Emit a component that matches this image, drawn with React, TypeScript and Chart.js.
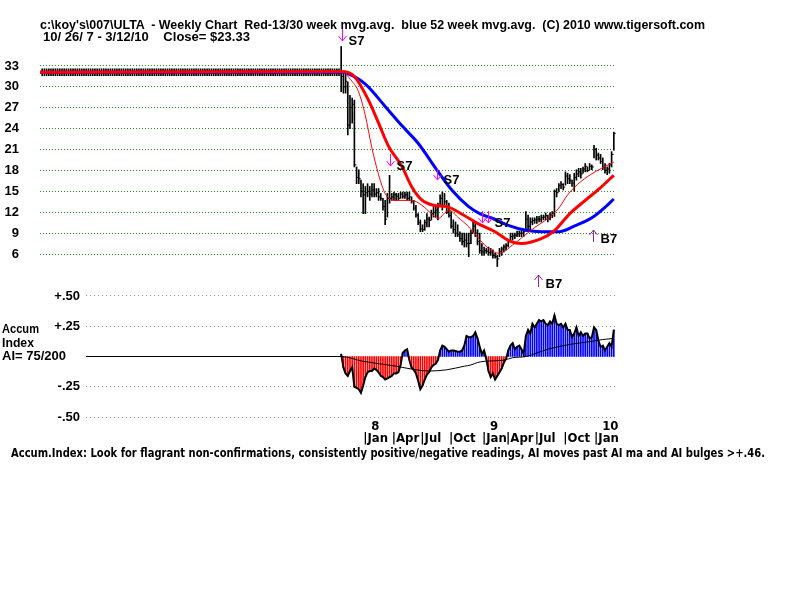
import React, { useEffect, useLayoutEffect, useRef } from 'react';
import { Chart, registerables } from 'chart.js';

Chart.register(...registerables);

// ---------------- data ----------------
// flat pre-history padding drawn by the original program before the first week
const padWeeks = 136;
const padHigh = 32.6;
const padLow = 31.6;
const padLevel = 32.1;

// weekly bars, week 0 = 10/26/07 ... week 124 = 3/12/10
const weekHigh = [
  35.8, 31.9, 32.0, 30.7, 28.8, 28.4, 28.1, 18.5, 18.1, 16.6,
  16.1, 15.7, 16.1, 15.7, 16.1, 16.1, 15.4, 15.4, 14.7, 14.0,
  13.7, 14.7, 17.3, 14.7, 14.9, 14.7, 14.7, 14.9, 14.9, 14.9,
  14.9, 14.9, 14.2, 13.7, 13.0, 11.8, 10.9, 10.2, 10.9, 11.8,
  11.3, 12.3, 12.8, 12.8, 13.3, 14.5, 14.9, 14.7, 13.7, 13.3,
  12.1, 10.9, 10.6, 10.2, 9.2, 9.0, 9.0, 9.0, 9.0, 9.4,
  10.6, 10.6, 9.5, 9.0, 7.5, 7.0, 6.8, 7.0, 6.8, 6.6,
  6.1, 5.8, 6.8, 7.0, 7.3, 7.5, 8.0, 9.0, 9.0, 9.0,
  9.3, 9.3, 9.5, 9.5, 12.1, 11.6, 11.2, 11.2, 11.2, 11.4,
  11.4, 11.6, 11.6, 11.9, 11.6, 11.9, 12.1, 15.2, 15.4, 16.1,
  16.4, 16.1, 17.8, 17.6, 17.4, 16.6, 17.6, 18.1, 18.3, 18.3,
  18.5, 19.0, 18.5, 19.0, 18.8, 21.6, 21.2, 20.5, 20.3, 19.8,
  19.0, 18.5, 19.0, 20.7, 23.5,
];
const weekLow = [
  29.3, 29.1, 29.1, 23.1, 24.0, 24.8, 18.5, 16.1, 16.1, 14.2,
  11.8, 11.8, 14.2, 13.7, 14.2, 14.2, 14.2, 13.7, 13.7, 12.3,
  10.2, 11.3, 13.3, 13.7, 13.7, 13.7, 13.7, 14.0, 14.0, 14.0,
  13.7, 13.7, 13.3, 12.3, 11.3, 10.2, 9.2, 9.2, 9.4, 9.9,
  9.9, 10.9, 11.3, 11.3, 10.9, 12.8, 12.3, 12.8, 11.8, 11.3,
  9.7, 9.0, 8.5, 8.5, 7.8, 7.3, 7.0, 7.0, 5.6, 7.5,
  9.0, 8.5, 7.3, 6.1, 5.8, 5.8, 6.1, 5.8, 5.8, 5.4,
  5.4, 4.2, 5.6, 5.8, 6.3, 6.6, 7.0, 7.8, 8.0, 8.2,
  8.5, 8.5, 8.5, 8.5, 9.5, 9.3, 9.5, 10.2, 10.4, 10.4,
  10.6, 10.6, 10.9, 10.9, 10.6, 10.9, 11.2, 11.4, 14.2, 15.0,
  15.4, 15.2, 15.9, 16.1, 16.1, 15.7, 15.0, 16.6, 17.1, 16.9,
  17.6, 17.8, 17.8, 18.1, 18.1, 19.8, 19.5, 19.5, 19.0, 18.1,
  17.6, 17.4, 17.6, 18.5, 20.9,
];
const weekClose = [
  31.5, 30.0, 30.8, 24.5, 27.0, 27.5, 18.8, 17.0, 16.8, 15.0,
  14.5, 14.8, 15.0, 14.6, 15.2, 14.6, 14.8, 14.2, 14.0, 12.8,
  11.0, 14.0, 14.0, 14.2, 14.5, 14.3, 14.0, 14.6, 14.3, 14.5,
  14.0, 14.2, 13.6, 12.6, 11.6, 10.5, 9.6, 9.5, 10.5, 11.0,
  10.8, 11.8, 12.0, 12.3, 12.8, 14.0, 13.0, 13.5, 12.0, 11.5,
  10.0, 9.5, 9.0, 8.8, 8.2, 7.8, 8.0, 7.5, 7.5, 9.0,
  10.0, 9.0, 7.8, 6.5, 6.3, 6.5, 6.4, 6.2, 6.3, 5.8,
  5.6, 5.3, 6.4, 6.7, 7.0, 7.2, 7.8, 8.5, 8.6, 8.7,
  8.9, 9.0, 9.0, 9.2, 11.0, 10.0, 10.6, 10.8, 10.9, 11.0,
  11.0, 11.2, 11.3, 11.5, 11.2, 11.6, 11.8, 15.0, 14.8, 15.8,
  16.0, 15.6, 17.2, 16.8, 16.6, 16.2, 17.0, 17.5, 17.8, 17.5,
  18.2, 18.6, 18.0, 18.6, 18.5, 21.0, 20.2, 19.8, 19.3, 18.5,
  18.0, 18.2, 18.8, 20.3, 23.33,
];

const priceTicks = [6, 9, 12, 15, 18, 21, 24, 27, 30, 33];

// moving averages (week, value)
const ma13Weeks = [-138, 0, 4.9, 7.9, 10.9, 14, 17, 20, 24.5, 32, 36.7, 41, 44, 49, 53, 58, 61, 67, 72, 78, 82, 88, 94, 99, 103, 109, 115.5, 121.5, 124];
const ma13Values = [32.1, 32.2, 30.8, 29.3, 26.0, 21.2, 17.4, 14.7, 13.7, 13.7, 13.0, 11.8, 11.1, 12.3, 11.3, 9.9, 8.8, 6.8, 6.1, 7.3, 8.3, 9.8, 11.1, 12.6, 14.5, 16.4, 17.8, 18.8, 19.2];
const ma30Weeks = [-138, 0, 6, 12.4, 17, 21.5, 27.6, 32, 36.5, 42, 48, 55.6, 62, 70, 77, 82, 91, 96.5, 104, 111, 117.5, 124];
const ma30Values = [32.1, 32.2, 31.5, 28.1, 24.8, 21.5, 18.6, 15.7, 13.8, 13.0, 12.8, 11.6, 10.4, 9.2, 7.8, 7.5, 8.2, 9.2, 11.8, 13.7, 15.4, 17.3];
const ma52Weeks = [-138, 0, 3, 11, 20, 28, 35, 43, 50, 58, 63, 69, 76, 84, 91, 99, 106, 114, 121, 124];
const ma52Values = [32.1, 32.1, 31.9, 30.4, 27.2, 24.3, 21.9, 18.3, 15.3, 12.8, 11.8, 11.1, 10.1, 9.4, 9.2, 9.2, 10.0, 11.2, 13.0, 13.9];

// signals
const sellWeeks = [0.4, 22, 43.5, 64, 66.8];
const sellTipValues = [36.6, 18.6, 16.6, 10.45, 10.45];
const sellLabels = ['S7', 'S7', 'S7', '', 'S7'];
const buyWeeks = [89.5, 114.5];
const buyTipValues = [3.0, 9.45];
const buyLabels = ['B7', 'B7'];

// Accumulation index, one value per week
const accumValues = [
  0.02, -0.09, -0.14, -0.16, -0.12, -0.09, -0.25, -0.26, -0.27, -0.30,
  -0.24, -0.17, -0.13, -0.12, -0.12, -0.10, -0.11, -0.13, -0.16, -0.17,
  -0.19, -0.18, -0.17, -0.16, -0.14, -0.14, -0.13, -0.07, 0.03, 0.05,
  0.06, -0.03, -0.09, -0.11, -0.14, -0.20, -0.27, -0.24, -0.19, -0.15,
  -0.13, -0.09, -0.07, -0.06, -0.03, 0.05, 0.09, 0.08, 0.06, 0.04,
  0.05, 0.05, 0.045, 0.04, 0.04, 0.05, 0.09, 0.17, 0.16, 0.16,
  0.17, 0.20, 0.15, 0.08, 0.02, 0.05, -0.02, -0.12, -0.17, -0.14,
  -0.19, -0.16, -0.13, -0.10, -0.05, -0.02, 0.05, 0.09, 0.11, 0.06,
  0.08, 0.09, 0.06, 0.02, 0.17, 0.22, 0.19, 0.27, 0.24, 0.27,
  0.30, 0.29, 0.30, 0.27, 0.26, 0.29, 0.27, 0.34, 0.27, 0.26,
  0.27, 0.24, 0.27, 0.22, 0.22, 0.16, 0.19, 0.24, 0.17, 0.20,
  0.17, 0.19, 0.19, 0.15, 0.16, 0.24, 0.22, 0.13, 0.08, 0.09,
  0.05, 0.08, 0.11, 0.08, 0.22,
];
const accumMaWeeks = [-118, 0, 10, 25, 34, 40, 48, 56, 59, 62, 65, 74, 78, 84, 94, 104, 112, 119, 124];
const accumMaValues = [0, 0, -0.04, -0.08, -0.11, -0.12, -0.11, -0.08, -0.07, -0.05, -0.04, -0.03, -0.01, 0.0, 0.06, 0.10, 0.12, 0.14, 0.15];
const accumTicks = [-0.5, -0.25, 0.25, 0.5];
const accumTickLabels = ['-.50', '-.25', '+.25', '+.50'];

// date axis
const quarterWeeks = [10, 23, 36, 49, 64, 75, 88, 101, 115];
const quarterLabels = ['|Jan', '|Apr', '|Jul', '|Oct', '|Jan', '|Apr', '|Jul', '|Oct', '|Jan'];
const yearLabels = ['  8', '', '', '', '  9', '', '', '', '  10'];

// ---------------- layout constants ----------------
const SANS = '"Liberation Sans", Arial, sans-serif';
const NARROW = '"Liberation Sans Narrow", "DejaVu Sans Condensed", "Liberation Sans", sans-serif';
const PRICE_X_MIN = -137;
const X_MAX = 125;
const PX_PER_WEEK = 576 / (X_MAX - PRICE_X_MIN);
const ACCUM_X_MIN = X_MAX - 530 / PX_PER_WEEK;

const signalPlugin = {
  id: 'signals',
  afterDatasetsDraw(chart: any) {
    const { ctx, scales } = chart;
    const xs = scales.x;
    const ys = scales.y;
    ctx.save();
    ctx.lineWidth = 1;
    ctx.font = 'bold 13px ' + SANS;
    ctx.textBaseline = 'middle';
    ctx.textAlign = 'left';
    sellWeeks.forEach((w, i) => {
      const px = Math.round(xs.getPixelForValue(w)) + 0.5;
      const py = Math.round(ys.getPixelForValue(sellTipValues[i]));
      ctx.strokeStyle = '#ff00ff';
      ctx.beginPath();
      ctx.moveTo(px, py - 12);
      ctx.lineTo(px, py);
      ctx.moveTo(px - 4, py - 5);
      ctx.lineTo(px, py);
      ctx.lineTo(px + 4, py - 5);
      ctx.stroke();
      if (sellLabels[i]) {
        ctx.fillStyle = '#000';
        ctx.fillText(sellLabels[i], px + 6, py);
      }
    });
    buyWeeks.forEach((w, i) => {
      const px = Math.round(xs.getPixelForValue(w)) + 0.5;
      const py = Math.round(ys.getPixelForValue(buyTipValues[i]));
      ctx.strokeStyle = '#9a2290';
      ctx.beginPath();
      ctx.moveTo(px, py + 12);
      ctx.lineTo(px, py);
      ctx.moveTo(px - 4, py + 5);
      ctx.lineTo(px, py);
      ctx.lineTo(px + 4, py + 5);
      ctx.stroke();
      ctx.fillStyle = '#000';
      ctx.fillText(buyLabels[i], px + 7, py + 9);
    });
    ctx.restore();
  },
};

function FitText(props: { text: string; left: number; top: number; width: number; size: number; family?: string }) {
  const ref = useRef<HTMLDivElement>(null);
  useLayoutEffect(() => {
    const el = ref.current;
    if (!el) return;
    el.style.transform = 'none';
    const w = el.getBoundingClientRect().width;
    if (w > 0) el.style.transform = `scaleX(${props.width / w})`;
  }, [props.text, props.width]);
  return (
    <div
      ref={ref}
      style={{
        position: 'absolute',
        left: props.left,
        top: props.top,
        whiteSpace: 'pre',
        fontFamily: props.family || SANS,
        fontWeight: 'bold',
        fontSize: props.size,
        lineHeight: 1,
        color: '#000',
        transformOrigin: '0 0',
      }}
    >
      {props.text}
    </div>
  );
}

function PriceChart() {
  const ref = useRef<HTMLCanvasElement>(null);
  useEffect(() => {
    if (!ref.current) return;
    const padX = Array.from({ length: padWeeks }, (_, i) => i - padWeeks);
    const bars = [
      ...padX.map((x) => ({ x, y: [padLow, padHigh] })),
      ...weekHigh.map((h, i) => ({ x: i, y: [weekLow[i], h] })),
    ];
    const padLine = [
      { x: padX[0], y: padLevel },
      { x: 0, y: padLevel },
    ];
    const closes = weekClose.map((c, i) => ({ x: i, y: c }));
    const pts = (ws: number[], vs: number[]) => ws.map((w, i) => ({ x: w, y: vs[i] }));
    const chart = new Chart(ref.current, {
      type: 'bar',
      data: {
        datasets: [
          {
            type: 'line',
            data: pts(ma13Weeks, ma13Values),
            borderColor: '#ff0000',
            borderWidth: 1,
            pointRadius: 0,
            cubicInterpolationMode: 'monotone',
            order: 1,
          } as any,
          {
            type: 'line',
            data: pts(ma30Weeks, ma30Values),
            borderColor: '#ff0000',
            borderWidth: 3,
            pointRadius: 0,
            cubicInterpolationMode: 'monotone',
            order: 2,
          } as any,
          {
            type: 'line',
            data: pts(ma52Weeks, ma52Values),
            borderColor: '#0000ff',
            borderWidth: 3,
            pointRadius: 0,
            cubicInterpolationMode: 'monotone',
            order: 3,
          } as any,
          {
            type: 'line',
            data: closes,
            showLine: false,
            pointStyle: 'dash',
            pointRadius: 2,
            pointBorderWidth: 1,
            pointBorderColor: '#000',
            borderColor: '#000',
            order: 4,
          } as any,
          {
            type: 'line',
            data: padLine,
            borderColor: '#000',
            borderWidth: 1,
            pointRadius: 0,
            order: 4,
          } as any,
          {
            type: 'bar',
            data: bars,
            backgroundColor: '#000',
            borderWidth: 0,
            barThickness: 1,
            order: 5,
          } as any,
        ],
      },
      options: {
        animation: false,
        responsive: false,
        events: [],
        layout: { padding: { left: 0, right: 184, top: 30, bottom: 30 } },
        plugins: { legend: { display: false }, tooltip: { enabled: false } },
        scales: {
          x: { type: 'linear', min: PRICE_X_MIN, max: X_MAX, offset: false, display: false },
          y: {
            type: 'linear',
            min: 6 - 16 / 6.963,
            max: 33 + 36 / 6.963,
            afterBuildTicks: (s: any) => {
              s.ticks = priceTicks.map((v) => ({ value: v }));
            },
            afterFit: (s: any) => {
              s.width = 40;
              s.paddingTop = 0;
              s.paddingBottom = 0;
            },
            ticks: {
              padding: 21,
              color: '#000',
              font: { family: SANS, weight: 'bold', size: 13 },
              callback: (v: any) => String(v),
            },
            grid: { color: '#1f9a1f', drawTicks: false, lineWidth: 1 },
            border: { display: false, dash: [1, 2] },
          },
        },
      } as any,
      plugins: [signalPlugin],
    });
    return () => chart.destroy();
  }, []);
  return <canvas ref={ref} width={800} height={300} style={{ position: 'absolute', left: 0, top: 0, width: 800, height: 300 }} />;
}

function AccumChart() {
  const ref = useRef<HTMLCanvasElement>(null);
  useEffect(() => {
    if (!ref.current) return;
    const aiPts = accumValues.map((v, i) => ({ x: i, y: v }));
    const chart = new Chart(ref.current, {
      type: 'bar',
      data: {
        datasets: [
          {
            type: 'line',
            data: aiPts,
            borderColor: '#000',
            borderWidth: 2,
            pointRadius: 0,
            order: 1,
          } as any,
          {
            type: 'line',
            data: accumMaWeeks.map((w, i) => ({ x: w, y: accumMaValues[i] })),
            borderColor: '#000',
            borderWidth: 1,
            pointRadius: 0,
            cubicInterpolationMode: 'monotone',
            order: 2,
          } as any,
          {
            type: 'bar',
            data: aiPts,
            backgroundColor: accumValues.map((v) => (v < 0 ? '#ff0000' : '#0000ff')),
            borderWidth: 0,
            barThickness: 1,
            order: 3,
          } as any,
        ],
      },
      options: {
        animation: false,
        responsive: false,
        events: [],
        layout: { padding: { left: 0, right: 184, top: 6, bottom: 0 } },
        plugins: { legend: { display: false }, tooltip: { enabled: false } },
        scales: {
          x: {
            type: 'linear',
            min: ACCUM_X_MIN,
            max: X_MAX,
            offset: false,
            afterBuildTicks: (s: any) => {
              s.ticks = quarterWeeks.map((v) => ({ value: v }));
            },
            afterFit: (s: any) => {
              s.height = 40;
              s.paddingLeft = 0;
              s.paddingRight = 0;
            },
            ticks: {
              align: 'start',
              padding: 0,
              autoSkip: false,
              maxRotation: 0,
              color: '#000',
              font: { family: NARROW, weight: 'bold', size: 13, lineHeight: 0.95 },
              callback: (v: any) => {
                const i = quarterWeeks.indexOf(v);
                return [yearLabels[i], quarterLabels[i]];
              },
            },
            grid: { display: false, drawTicks: false, offset: false },
            border: { display: false },
          },
          y: {
            type: 'linear',
            min: -(420 - 356.5) / 121,
            max: (356.5 - 286) / 121,
            afterBuildTicks: (s: any) => {
              s.ticks = accumTicks.map((v) => ({ value: v }));
            },
            afterFit: (s: any) => {
              s.width = 86;
              s.paddingTop = 0;
              s.paddingBottom = 0;
            },
            ticks: {
              padding: 6,
              color: '#000',
              font: { family: SANS, weight: 'bold', size: 13 },
              callback: (v: any) => accumTickLabels[accumTicks.indexOf(v)],
            },
            grid: { color: '#9a9a9a', drawTicks: false, lineWidth: 1 },
            border: { display: false, dash: [1, 3] },
          },
        },
      } as any,
    });
    return () => chart.destroy();
  }, []);
  return <canvas ref={ref} width={800} height={180} style={{ position: 'absolute', left: 0, top: 280, width: 800, height: 180 }} />;
}

export default function App() {
  return (
    <div style={{ position: 'absolute', left: 0, top: 0, width: 800, height: 600, background: '#fff', overflow: 'hidden' }}>
      <PriceChart />
      <AccumChart />
      <FitText
        text={"c:\\koy's\\007\\ULTA  - Weekly Chart  Red-13/30 week mvg.avg.  blue 52 week mvg.avg.  (C) 2010 www.tigersoft.com"}
        left={40}
        top={19}
        width={665}
        size={12}
      />
      <FitText text={'10/ 26/ 7 - 3/12/10    Close= $23.33'} left={43} top={31} width={207} size={12} />
      <FitText text={'Accum'} left={2} top={323} width={37} size={12} />
      <FitText text={'Index'} left={2} top={337} width={32} size={12} />
      <FitText text={'AI= 75/200'} left={2} top={350} width={64} size={12} />
      <FitText
        text={'Accum.Index: Look for flagrant non-confirmations, consistently positive/negative readings, AI moves past AI ma and AI bulges >+.46.'}
        left={11}
        top={446}
        width={754}
        size={13}
        family={NARROW}
      />
    </div>
  );
}
